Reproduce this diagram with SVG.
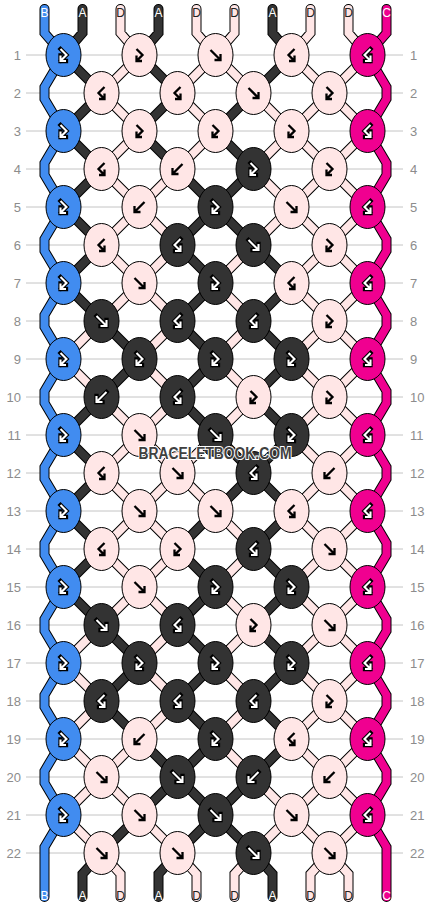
<svg xmlns="http://www.w3.org/2000/svg" xmlns:xlink="http://www.w3.org/1999/xlink" width="430" height="908" viewBox="0 0 430 908">
<style>
.grid{fill:none;stroke:#c4c4c4;stroke-width:1}
.num{font-family:"Liberation Sans",Arial,sans-serif;font-size:13px;fill:#8c8c8c}
.lbl{font-family:"Liberation Sans",Arial,sans-serif;font-size:12px;text-anchor:middle}
.lw{fill:#fff}.lk{fill:#222}
.o{fill:none;stroke:#000;stroke-width:10;stroke-linecap:round;stroke-linejoin:miter}
.ia,.id,.ib,.ic{fill:none;stroke-width:8;stroke-linecap:round;stroke-linejoin:miter}
.ia{stroke:#333}.id{stroke:#ffe6e6}.ib{stroke:#418cf0}.ic{stroke:#f00090}
ellipse{stroke:#000;stroke-width:1}
.kb{fill:#418cf0}.kc{fill:#f00090}.ka{fill:#333}.kd{fill:#ffe6e6}
.ak{fill:none;stroke:#000;stroke-width:2.3;stroke-linejoin:miter}
.ao{fill:none;stroke:#000;stroke-width:4.3;stroke-linejoin:miter;stroke-linecap:square}
.aw{fill:none;stroke:#fff;stroke-width:2.1;stroke-linejoin:miter}
.wm{font-family:"Liberation Sans",Arial,sans-serif;font-weight:bold;font-size:16px;fill:#404040;stroke:#fff;stroke-width:2;paint-order:stroke;text-anchor:middle}
</style>
<defs>
<path id="f" d="M-5,-5L4.5,4.5M5,-1V5H-1"/>
<path id="b" d="M5,-5L-4.5,4.5M-5,-1V5H1"/>
<path id="fb" d="M-3,-6L3,0L-2.6,5.6M-3,0.5V6H2.5"/>
<path id="bf" d="M3,-6L-3,0L2.6,5.6M3,0.5V6H-2.5"/>
<g id="Wf"><use href="#f" class="ao"/><use href="#f" class="aw"/></g>
<g id="Wb"><use href="#b" class="ao"/><use href="#b" class="aw"/></g>
<g id="Wfb"><use href="#fb" class="ao"/><use href="#fb" class="aw"/></g>
<g id="Wbf"><use href="#bf" class="ao"/><use href="#bf" class="aw"/></g>
<path id="segA" d="M19,0l38,38M95,0l38,38M247,0l-38,38
M57,38l-38,38M133,38l-38,38M209,38l-38,38
M19,76l38,38M95,76l38,38M171,76l38,38
M57,114l-38,38M133,114l38,38M209,114l-38,38
M19,152l38,38M171,152l-38,38M171,152l38,38
M57,190l-38,38M133,190l38,38M209,190l38,38
M19,228l38,38M171,228l-38,38M247,228l-38,38
M57,266l38,38M133,266l38,38M209,266l38,38
M95,304l-38,38M171,304l-38,38M247,304l-38,38
M57,342l-38,38M133,342l38,38M209,342l38,38
M19,380l38,38M171,380l38,38M247,380l-38,38
M57,418l-38,38M209,418l-38,38M209,418l38,38
M19,456l38,38M171,456l-38,38M247,456l-38,38
M57,494l-38,38M133,494l38,38M209,494l38,38
M19,532l38,38M171,532l-38,38M247,532l-38,38
M57,570l38,38M133,570l38,38M209,570l38,38
M95,608l-38,38M171,608l-38,38M247,608l-38,38
M57,646l38,38M133,646l38,38M209,646l38,38
M95,684l38,38M171,684l-38,38M247,684l-38,38
M133,722l-38,38M133,722l38,38M209,722l-38,38
M95,760l-38,38M171,760l-38,38M171,760l38,38
M38,-46V-22L19,0M114,-46V-22L95,0M228,-46V-22L247,0
M57,798L38,819V842M133,798L114,819V842M209,798L228,819V842"/>
<path id="segD" d="M95,0l-38,38M171,0l-38,38M171,0l38,38M247,0l38,38M323,0l-38,38
M57,38l38,38M133,38l38,38M209,38l38,38M285,38l-38,38M285,38l38,38
M95,76l-38,38M171,76l-38,38M247,76l-38,38M247,76l38,38M323,76l-38,38
M57,114l38,38M133,114l-38,38M209,114l38,38M285,114l-38,38M285,114l38,38
M95,152l-38,38M95,152l38,38M247,152l-38,38M247,152l38,38M323,152l-38,38
M57,190l38,38M133,190l-38,38M209,190l-38,38M285,190l-38,38M285,190l38,38
M95,228l-38,38M95,228l38,38M171,228l38,38M247,228l38,38M323,228l-38,38
M57,266l-38,38M133,266l-38,38M209,266l-38,38M285,266l-38,38M285,266l38,38
M19,304l38,38M95,304l38,38M171,304l38,38M247,304l38,38M323,304l-38,38
M57,342l38,38M133,342l-38,38M209,342l-38,38M285,342l-38,38M285,342l38,38
M95,380l-38,38M95,380l38,38M171,380l-38,38M247,380l38,38M323,380l-38,38
M57,418l38,38M133,418l-38,38M133,418l38,38M285,418l-38,38M285,418l38,38
M95,456l-38,38M95,456l38,38M171,456l38,38M247,456l38,38M323,456l-38,38
M57,494l38,38M133,494l-38,38M209,494l-38,38M285,494l-38,38M285,494l38,38
M95,532l-38,38M95,532l38,38M171,532l38,38M247,532l38,38M323,532l-38,38
M57,570l-38,38M133,570l-38,38M209,570l-38,38M285,570l-38,38M285,570l38,38
M19,608l38,38M95,608l38,38M171,608l38,38M247,608l38,38M323,608l-38,38
M57,646l-38,38M133,646l-38,38M209,646l-38,38M285,646l-38,38M285,646l38,38
M19,684l38,38M95,684l-38,38M171,684l38,38M247,684l38,38M323,684l-38,38
M57,722l-38,38M57,722l38,38M209,722l38,38M285,722l-38,38M285,722l38,38
M19,760l38,38M95,760l38,38M247,760l-38,38M247,760l38,38M323,760l-38,38
M76,-46V-22L95,0M152,-46V-22L171,0M190,-46V-22L171,0M266,-46V-22L247,0M304,-46V-22L323,0
M57,798L76,819V842M133,798L152,819V842M209,798L190,819V842M285,798L266,819V842M285,798L304,819V842"/>
<path id="edgeB" d="M0,-46V-22L19,0l-19,32v12l19,32l-19,32v12l19,32l-19,32v12l19,32l-19,32v12l19,32l-19,32v12l19,32l-19,32v12l19,32l-19,32v12l19,32l-19,32v12l19,32l-19,32v12l19,32l-19,32v12l19,32l-19,32V842"/>
<path id="edgeC" d="M342,-46V-22L323,0l19,32v12l-19,32l19,32v12l-19,32l19,32v12l-19,32l19,32v12l-19,32l19,32v12l-19,32l19,32v12l-19,32l19,32v12l-19,32l19,32v12l-19,32l19,32v12l-19,32l19,32v12l-19,32l19,32V842"/>
</defs>
<rect width="430" height="908" fill="#fff"/>
<g id="rows">
<path class="grid" d="M26,55H403M26,93H403M26,131H403M26,169H403M26,207H403M26,245H403M26,283H403M26,321H403M26,359H403M26,397H403M26,435H403M26,473H403M26,511H403M26,549H403M26,587H403M26,625H403M26,663H403M26,701H403M26,739H403M26,777H403M26,815H403M26,853H403"/>
<g class="num" text-anchor="end">
<text x="21" y="59.5">1</text><text x="21" y="97.5">2</text><text x="21" y="135.5">3</text><text x="21" y="173.5">4</text><text x="21" y="211.5">5</text><text x="21" y="249.5">6</text><text x="21" y="287.5">7</text><text x="21" y="325.5">8</text><text x="21" y="363.5">9</text><text x="21" y="401.5">10</text><text x="21" y="439.5">11</text><text x="21" y="477.5">12</text><text x="21" y="515.5">13</text><text x="21" y="553.5">14</text><text x="21" y="591.5">15</text><text x="21" y="629.5">16</text><text x="21" y="667.5">17</text><text x="21" y="705.5">18</text><text x="21" y="743.5">19</text><text x="21" y="781.5">20</text><text x="21" y="819.5">21</text><text x="21" y="857.5">22</text>
</g>
<g class="num">
<text x="410" y="59.5">1</text><text x="410" y="97.5">2</text><text x="410" y="135.5">3</text><text x="410" y="173.5">4</text><text x="410" y="211.5">5</text><text x="410" y="249.5">6</text><text x="410" y="287.5">7</text><text x="410" y="325.5">8</text><text x="410" y="363.5">9</text><text x="410" y="401.5">10</text><text x="410" y="439.5">11</text><text x="410" y="477.5">12</text><text x="410" y="515.5">13</text><text x="410" y="553.5">14</text><text x="410" y="591.5">15</text><text x="410" y="629.5">16</text><text x="410" y="667.5">17</text><text x="410" y="705.5">18</text><text x="410" y="743.5">19</text><text x="410" y="781.5">20</text><text x="410" y="819.5">21</text><text x="410" y="857.5">22</text>
</g>
</g>
<g id="connectors" transform="translate(44.5,55)">
<use href="#segA" class="o"/><use href="#segD" class="o"/><use href="#edgeB" class="o"/><use href="#edgeC" class="o"/>
<use href="#segA" class="ia"/><use href="#segD" class="id"/><use href="#edgeB" class="ib"/><use href="#edgeC" class="ic"/>
</g>
<g id="strand-labels">
<text class="lbl lw" x="44.5" y="17">B</text><text class="lbl lw" x="82.5" y="17">A</text><text class="lbl lk" x="120.5" y="17">D</text><text class="lbl lw" x="158.5" y="17">A</text><text class="lbl lk" x="196.5" y="17">D</text><text class="lbl lk" x="234.5" y="17">D</text><text class="lbl lw" x="272.5" y="17">A</text><text class="lbl lk" x="310.5" y="17">D</text><text class="lbl lk" x="348.5" y="17">D</text><text class="lbl lw" x="386.5" y="17">C</text>
<text class="lbl lw" x="44.5" y="900">B</text><text class="lbl lw" x="82.5" y="900">A</text><text class="lbl lk" x="120.5" y="900">D</text><text class="lbl lw" x="158.5" y="900">A</text><text class="lbl lk" x="196.5" y="900">D</text><text class="lbl lk" x="234.5" y="900">D</text><text class="lbl lw" x="272.5" y="900">A</text><text class="lbl lk" x="310.5" y="900">D</text><text class="lbl lk" x="348.5" y="900">D</text><text class="lbl lw" x="386.5" y="900">C</text>
</g>
<g id="knots" transform="translate(44.5,55)">
<g id="n1-1" transform="translate(19,0)"><ellipse class="kb" rx="17.5" ry="21.5"/><use href="#Wfb"/></g>
<g id="n1-2" transform="translate(95,0)"><ellipse class="kd" rx="17.5" ry="21.5"/><use href="#fb" class="ak"/></g>
<g id="n1-3" transform="translate(171,0)"><ellipse class="kd" rx="17.5" ry="21.5"/><use href="#f" class="ak"/></g>
<g id="n1-4" transform="translate(247,0)"><ellipse class="kd" rx="17.5" ry="21.5"/><use href="#bf" class="ak"/></g>
<g id="n1-5" transform="translate(323,0)"><ellipse class="kc" rx="17.5" ry="21.5"/><use href="#Wbf"/></g>
<g id="n2-1" transform="translate(57,38)"><ellipse class="kd" rx="17.5" ry="21.5"/><use href="#bf" class="ak"/></g>
<g id="n2-2" transform="translate(133,38)"><ellipse class="kd" rx="17.5" ry="21.5"/><use href="#bf" class="ak"/></g>
<g id="n2-3" transform="translate(209,38)"><ellipse class="kd" rx="17.5" ry="21.5"/><use href="#f" class="ak"/></g>
<g id="n2-4" transform="translate(285,38)"><ellipse class="kd" rx="17.5" ry="21.5"/><use href="#fb" class="ak"/></g>
<g id="n3-1" transform="translate(19,76)"><ellipse class="kb" rx="17.5" ry="21.5"/><use href="#Wfb"/></g>
<g id="n3-2" transform="translate(95,76)"><ellipse class="kd" rx="17.5" ry="21.5"/><use href="#fb" class="ak"/></g>
<g id="n3-3" transform="translate(171,76)"><ellipse class="kd" rx="17.5" ry="21.5"/><use href="#fb" class="ak"/></g>
<g id="n3-4" transform="translate(247,76)"><ellipse class="kd" rx="17.5" ry="21.5"/><use href="#fb" class="ak"/></g>
<g id="n3-5" transform="translate(323,76)"><ellipse class="kc" rx="17.5" ry="21.5"/><use href="#Wbf"/></g>
<g id="n4-1" transform="translate(57,114)"><ellipse class="kd" rx="17.5" ry="21.5"/><use href="#bf" class="ak"/></g>
<g id="n4-2" transform="translate(133,114)"><ellipse class="kd" rx="17.5" ry="21.5"/><use href="#b" class="ak"/></g>
<g id="n4-3" transform="translate(209,114)"><ellipse class="ka" rx="17.5" ry="21.5"/><use href="#Wfb"/></g>
<g id="n4-4" transform="translate(285,114)"><ellipse class="kd" rx="17.5" ry="21.5"/><use href="#fb" class="ak"/></g>
<g id="n5-1" transform="translate(19,152)"><ellipse class="kb" rx="17.5" ry="21.5"/><use href="#Wfb"/></g>
<g id="n5-2" transform="translate(95,152)"><ellipse class="kd" rx="17.5" ry="21.5"/><use href="#b" class="ak"/></g>
<g id="n5-3" transform="translate(171,152)"><ellipse class="ka" rx="17.5" ry="21.5"/><use href="#Wfb"/></g>
<g id="n5-4" transform="translate(247,152)"><ellipse class="kd" rx="17.5" ry="21.5"/><use href="#f" class="ak"/></g>
<g id="n5-5" transform="translate(323,152)"><ellipse class="kc" rx="17.5" ry="21.5"/><use href="#Wbf"/></g>
<g id="n6-1" transform="translate(57,190)"><ellipse class="kd" rx="17.5" ry="21.5"/><use href="#bf" class="ak"/></g>
<g id="n6-2" transform="translate(133,190)"><ellipse class="ka" rx="17.5" ry="21.5"/><use href="#Wbf"/></g>
<g id="n6-3" transform="translate(209,190)"><ellipse class="ka" rx="17.5" ry="21.5"/><use href="#Wf"/></g>
<g id="n6-4" transform="translate(285,190)"><ellipse class="kd" rx="17.5" ry="21.5"/><use href="#fb" class="ak"/></g>
<g id="n7-1" transform="translate(19,228)"><ellipse class="kb" rx="17.5" ry="21.5"/><use href="#Wfb"/></g>
<g id="n7-2" transform="translate(95,228)"><ellipse class="kd" rx="17.5" ry="21.5"/><use href="#f" class="ak"/></g>
<g id="n7-3" transform="translate(171,228)"><ellipse class="ka" rx="17.5" ry="21.5"/><use href="#Wfb"/></g>
<g id="n7-4" transform="translate(247,228)"><ellipse class="kd" rx="17.5" ry="21.5"/><use href="#bf" class="ak"/></g>
<g id="n7-5" transform="translate(323,228)"><ellipse class="kc" rx="17.5" ry="21.5"/><use href="#Wbf"/></g>
<g id="n8-1" transform="translate(57,266)"><ellipse class="ka" rx="17.5" ry="21.5"/><use href="#Wf"/></g>
<g id="n8-2" transform="translate(133,266)"><ellipse class="ka" rx="17.5" ry="21.5"/><use href="#Wbf"/></g>
<g id="n8-3" transform="translate(209,266)"><ellipse class="ka" rx="17.5" ry="21.5"/><use href="#Wbf"/></g>
<g id="n8-4" transform="translate(285,266)"><ellipse class="kd" rx="17.5" ry="21.5"/><use href="#fb" class="ak"/></g>
<g id="n9-1" transform="translate(19,304)"><ellipse class="kb" rx="17.5" ry="21.5"/><use href="#Wfb"/></g>
<g id="n9-2" transform="translate(95,304)"><ellipse class="ka" rx="17.5" ry="21.5"/><use href="#Wfb"/></g>
<g id="n9-3" transform="translate(171,304)"><ellipse class="ka" rx="17.5" ry="21.5"/><use href="#Wfb"/></g>
<g id="n9-4" transform="translate(247,304)"><ellipse class="ka" rx="17.5" ry="21.5"/><use href="#Wfb"/></g>
<g id="n9-5" transform="translate(323,304)"><ellipse class="kc" rx="17.5" ry="21.5"/><use href="#Wbf"/></g>
<g id="n10-1" transform="translate(57,342)"><ellipse class="ka" rx="17.5" ry="21.5"/><use href="#Wb"/></g>
<g id="n10-2" transform="translate(133,342)"><ellipse class="ka" rx="17.5" ry="21.5"/><use href="#Wbf"/></g>
<g id="n10-3" transform="translate(209,342)"><ellipse class="kd" rx="17.5" ry="21.5"/><use href="#fb" class="ak"/></g>
<g id="n10-4" transform="translate(285,342)"><ellipse class="kd" rx="17.5" ry="21.5"/><use href="#fb" class="ak"/></g>
<g id="n11-1" transform="translate(19,380)"><ellipse class="kb" rx="17.5" ry="21.5"/><use href="#Wfb"/></g>
<g id="n11-2" transform="translate(95,380)"><ellipse class="kd" rx="17.5" ry="21.5"/><use href="#f" class="ak"/></g>
<g id="n11-3" transform="translate(171,380)"><ellipse class="ka" rx="17.5" ry="21.5"/><use href="#Wf"/></g>
<g id="n11-4" transform="translate(247,380)"><ellipse class="ka" rx="17.5" ry="21.5"/><use href="#Wfb"/></g>
<g id="n11-5" transform="translate(323,380)"><ellipse class="kc" rx="17.5" ry="21.5"/><use href="#Wbf"/></g>
<g id="n12-1" transform="translate(57,418)"><ellipse class="kd" rx="17.5" ry="21.5"/><use href="#bf" class="ak"/></g>
<g id="n12-2" transform="translate(133,418)"><ellipse class="kd" rx="17.5" ry="21.5"/><use href="#f" class="ak"/></g>
<g id="n12-3" transform="translate(209,418)"><ellipse class="ka" rx="17.5" ry="21.5"/><use href="#Wbf"/></g>
<g id="n12-4" transform="translate(285,418)"><ellipse class="kd" rx="17.5" ry="21.5"/><use href="#b" class="ak"/></g>
<g id="n13-1" transform="translate(19,456)"><ellipse class="kb" rx="17.5" ry="21.5"/><use href="#Wfb"/></g>
<g id="n13-2" transform="translate(95,456)"><ellipse class="kd" rx="17.5" ry="21.5"/><use href="#f" class="ak"/></g>
<g id="n13-3" transform="translate(171,456)"><ellipse class="kd" rx="17.5" ry="21.5"/><use href="#f" class="ak"/></g>
<g id="n13-4" transform="translate(247,456)"><ellipse class="kd" rx="17.5" ry="21.5"/><use href="#bf" class="ak"/></g>
<g id="n13-5" transform="translate(323,456)"><ellipse class="kc" rx="17.5" ry="21.5"/><use href="#Wbf"/></g>
<g id="n14-1" transform="translate(57,494)"><ellipse class="kd" rx="17.5" ry="21.5"/><use href="#bf" class="ak"/></g>
<g id="n14-2" transform="translate(133,494)"><ellipse class="kd" rx="17.5" ry="21.5"/><use href="#fb" class="ak"/></g>
<g id="n14-3" transform="translate(209,494)"><ellipse class="ka" rx="17.5" ry="21.5"/><use href="#Wbf"/></g>
<g id="n14-4" transform="translate(285,494)"><ellipse class="kd" rx="17.5" ry="21.5"/><use href="#f" class="ak"/></g>
<g id="n15-1" transform="translate(19,532)"><ellipse class="kb" rx="17.5" ry="21.5"/><use href="#Wfb"/></g>
<g id="n15-2" transform="translate(95,532)"><ellipse class="kd" rx="17.5" ry="21.5"/><use href="#f" class="ak"/></g>
<g id="n15-3" transform="translate(171,532)"><ellipse class="ka" rx="17.5" ry="21.5"/><use href="#Wfb"/></g>
<g id="n15-4" transform="translate(247,532)"><ellipse class="ka" rx="17.5" ry="21.5"/><use href="#Wfb"/></g>
<g id="n15-5" transform="translate(323,532)"><ellipse class="kc" rx="17.5" ry="21.5"/><use href="#Wbf"/></g>
<g id="n16-1" transform="translate(57,570)"><ellipse class="ka" rx="17.5" ry="21.5"/><use href="#Wf"/></g>
<g id="n16-2" transform="translate(133,570)"><ellipse class="ka" rx="17.5" ry="21.5"/><use href="#Wbf"/></g>
<g id="n16-3" transform="translate(209,570)"><ellipse class="kd" rx="17.5" ry="21.5"/><use href="#fb" class="ak"/></g>
<g id="n16-4" transform="translate(285,570)"><ellipse class="kd" rx="17.5" ry="21.5"/><use href="#f" class="ak"/></g>
<g id="n17-1" transform="translate(19,608)"><ellipse class="kb" rx="17.5" ry="21.5"/><use href="#Wfb"/></g>
<g id="n17-2" transform="translate(95,608)"><ellipse class="ka" rx="17.5" ry="21.5"/><use href="#Wfb"/></g>
<g id="n17-3" transform="translate(171,608)"><ellipse class="ka" rx="17.5" ry="21.5"/><use href="#Wfb"/></g>
<g id="n17-4" transform="translate(247,608)"><ellipse class="ka" rx="17.5" ry="21.5"/><use href="#Wfb"/></g>
<g id="n17-5" transform="translate(323,608)"><ellipse class="kc" rx="17.5" ry="21.5"/><use href="#Wbf"/></g>
<g id="n18-1" transform="translate(57,646)"><ellipse class="ka" rx="17.5" ry="21.5"/><use href="#Wbf"/></g>
<g id="n18-2" transform="translate(133,646)"><ellipse class="ka" rx="17.5" ry="21.5"/><use href="#Wbf"/></g>
<g id="n18-3" transform="translate(209,646)"><ellipse class="ka" rx="17.5" ry="21.5"/><use href="#Wbf"/></g>
<g id="n18-4" transform="translate(285,646)"><ellipse class="kd" rx="17.5" ry="21.5"/><use href="#fb" class="ak"/></g>
<g id="n19-1" transform="translate(19,684)"><ellipse class="kb" rx="17.5" ry="21.5"/><use href="#Wfb"/></g>
<g id="n19-2" transform="translate(95,684)"><ellipse class="kd" rx="17.5" ry="21.5"/><use href="#b" class="ak"/></g>
<g id="n19-3" transform="translate(171,684)"><ellipse class="ka" rx="17.5" ry="21.5"/><use href="#Wfb"/></g>
<g id="n19-4" transform="translate(247,684)"><ellipse class="kd" rx="17.5" ry="21.5"/><use href="#bf" class="ak"/></g>
<g id="n19-5" transform="translate(323,684)"><ellipse class="kc" rx="17.5" ry="21.5"/><use href="#Wbf"/></g>
<g id="n20-1" transform="translate(57,722)"><ellipse class="kd" rx="17.5" ry="21.5"/><use href="#f" class="ak"/></g>
<g id="n20-2" transform="translate(133,722)"><ellipse class="ka" rx="17.5" ry="21.5"/><use href="#Wf"/></g>
<g id="n20-3" transform="translate(209,722)"><ellipse class="ka" rx="17.5" ry="21.5"/><use href="#Wb"/></g>
<g id="n20-4" transform="translate(285,722)"><ellipse class="kd" rx="17.5" ry="21.5"/><use href="#b" class="ak"/></g>
<g id="n21-1" transform="translate(19,760)"><ellipse class="kb" rx="17.5" ry="21.5"/><use href="#Wfb"/></g>
<g id="n21-2" transform="translate(95,760)"><ellipse class="kd" rx="17.5" ry="21.5"/><use href="#f" class="ak"/></g>
<g id="n21-3" transform="translate(171,760)"><ellipse class="ka" rx="17.5" ry="21.5"/><use href="#Wf"/></g>
<g id="n21-4" transform="translate(247,760)"><ellipse class="kd" rx="17.5" ry="21.5"/><use href="#f" class="ak"/></g>
<g id="n21-5" transform="translate(323,760)"><ellipse class="kc" rx="17.5" ry="21.5"/><use href="#Wbf"/></g>
<g id="n22-1" transform="translate(57,798)"><ellipse class="kd" rx="17.5" ry="21.5"/><use href="#f" class="ak"/></g>
<g id="n22-2" transform="translate(133,798)"><ellipse class="kd" rx="17.5" ry="21.5"/><use href="#f" class="ak"/></g>
<g id="n22-3" transform="translate(209,798)"><ellipse class="ka" rx="17.5" ry="21.5"/><use href="#Wf"/></g>
<g id="n22-4" transform="translate(285,798)"><ellipse class="kd" rx="17.5" ry="21.5"/><use href="#f" class="ak"/></g>
</g>
<text id="watermark" class="wm" x="215" y="459" textLength="153" lengthAdjust="spacingAndGlyphs">BRACELETBOOK.COM</text>
</svg>
